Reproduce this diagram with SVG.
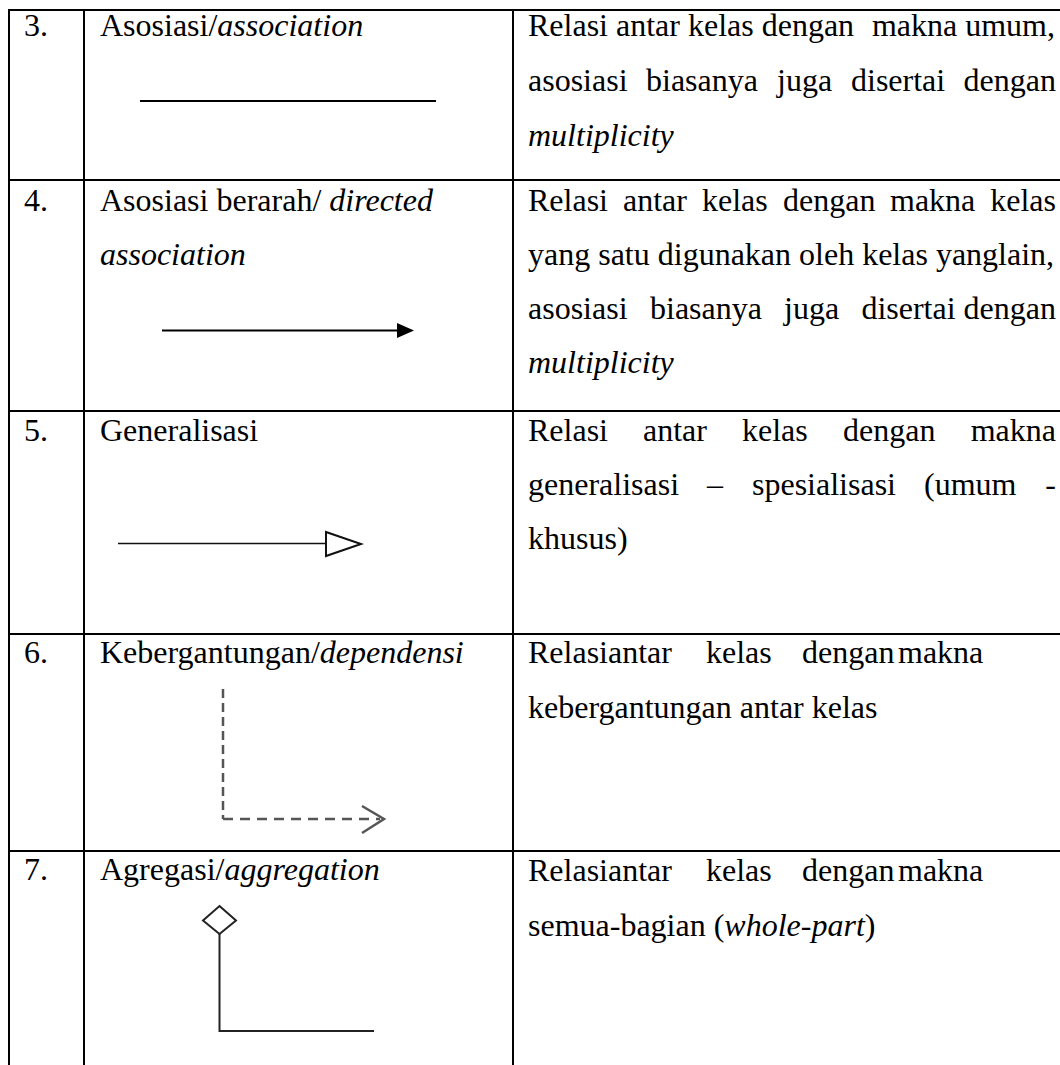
<svg xmlns="http://www.w3.org/2000/svg" width="1060" height="1065" viewBox="0 0 1060 1065">
<style>
.t{font-family:'Liberation Serif','Times New Roman',serif;font-size:32px;fill:#000}
.i{font-style:italic}
.e{text-anchor:end}
.grid{stroke:#000;stroke-width:2;fill:none}
.sym{stroke:#000;stroke-width:2;fill:none}
</style>
<rect width="1060" height="1065" fill="#fff"/>
<g id="grid" class="grid">
<line x1="8" y1="10" x2="1060" y2="10"/>
<line x1="8" y1="180" x2="1060" y2="180"/>
<line x1="8" y1="411" x2="1060" y2="411"/>
<line x1="8" y1="634" x2="1060" y2="634"/>
<line x1="8" y1="851" x2="1060" y2="851"/>
<line x1="9" y1="9" x2="9" y2="1065"/>
<line x1="84" y1="9" x2="84" y2="1065"/>
<line x1="513" y1="9" x2="513" y2="1065"/>
</g>
<g id="row3">
<text class="t" x="24" y="36">3.</text>
<text class="t" x="100" y="36">Asosiasi/<tspan class="i">association</tspan></text>
<text class="t" x="528" y="36">Relasi antar kelas dengan</text>
<text class="t e" x="1055" y="36">makna umum,</text>
<text class="t" x="528" y="91">asosiasi</text>
<text class="t" x="646" y="91">biasanya</text>
<text class="t" x="777" y="91">juga</text>
<text class="t" x="851" y="91">disertai</text>
<text class="t e" x="1056" y="91">dengan</text>
<text class="t i" x="528" y="146">multiplicity</text>
</g>
<g id="row4">
<text class="t" x="24" y="211">4.</text>
<text class="t" x="100" y="211">Asosiasi berarah/ <tspan class="i">directed</tspan></text>
<text class="t i" x="100" y="265">association</text>
<text class="t" x="528" y="211">Relasi</text>
<text class="t" x="623" y="211">antar</text>
<text class="t" x="702" y="211">kelas</text>
<text class="t" x="783" y="211">dengan</text>
<text class="t" x="890" y="211">makna</text>
<text class="t e" x="1056" y="211">kelas</text>
<text class="t" x="528" y="265">yang satu digunakan oleh kelas yanglain,</text>
<text class="t" x="528" y="319">asosiasi</text>
<text class="t" x="650" y="319">biasanya</text>
<text class="t" x="784" y="319">juga</text>
<text class="t e" x="1056" y="319">disertai dengan</text>
<text class="t i" x="528" y="373">multiplicity</text>
</g>
<g id="row5">
<text class="t" x="24" y="441">5.</text>
<text class="t" x="100" y="441">Generalisasi</text>
<text class="t" x="528" y="441">Relasi</text>
<text class="t" x="643" y="441">antar</text>
<text class="t" x="742" y="441">kelas</text>
<text class="t" x="843" y="441">dengan</text>
<text class="t e" x="1056" y="441">makna</text>
<text class="t" x="528" y="495">generalisasi</text>
<text class="t" x="707" y="495">–</text>
<text class="t" x="752" y="495">spesialisasi</text>
<text class="t" x="924" y="495">(umum</text>
<text class="t e" x="1056" y="495">-</text>
<text class="t" x="528" y="549">khusus)</text>
</g>
<g id="row6">
<text class="t" x="24" y="663">6.</text>
<text class="t" x="100" y="663">Kebergantungan/<tspan class="i">dependensi</tspan></text>
<text class="t" x="528" y="663">Relasiantar</text>
<text class="t" x="706" y="663">kelas</text>
<text class="t" x="802" y="663">dengan</text>
<text class="t" x="898" y="663">makna</text>
<text class="t" x="528" y="718">kebergantungan antar kelas</text>
</g>
<g id="row7">
<text class="t" x="24" y="880">7.</text>
<text class="t" x="100" y="880">Agregasi/<tspan class="i">aggregation</tspan></text>
<text class="t" x="528" y="881">Relasiantar</text>
<text class="t" x="706" y="881">kelas</text>
<text class="t" x="802" y="881">dengan</text>
<text class="t" x="898" y="881">makna</text>
<text class="t" x="528" y="936">semua-bagian (<tspan class="i">whole-part</tspan>)</text>
</g>
<g id="connectors">
<line id="association" class="sym" x1="140" y1="101" x2="436" y2="101"/>
<g id="directed-association">
<line class="sym" x1="162" y1="330.5" x2="400" y2="330.5"/>
<polygon points="397,323 414,330.5 397,338" fill="#000"/>
</g>
<g id="generalization" stroke="#111" fill="none">
<line x1="118" y1="543.5" x2="326" y2="543.5" stroke-width="1.5"/>
<polygon points="326,532 361,544 326,556" fill="#fff" stroke-width="2"/>
</g>
<g id="dependency" stroke="#555" stroke-width="2.5" fill="none">
<line x1="223" y1="689" x2="223" y2="819" stroke-dasharray="9,5"/>
<line x1="223" y1="819" x2="380" y2="819" stroke-dasharray="10,7"/>
<polyline points="362,806 384,819 362,833"/>
</g>
<g id="aggregation" stroke="#222" stroke-width="2" fill="none">
<polygon points="219.5,906 236,920.5 219.5,934 203,920.5" fill="#fff"/>
<polyline points="219.5,934 219.5,1031 374,1031"/>
</g>
</g>
</svg>
